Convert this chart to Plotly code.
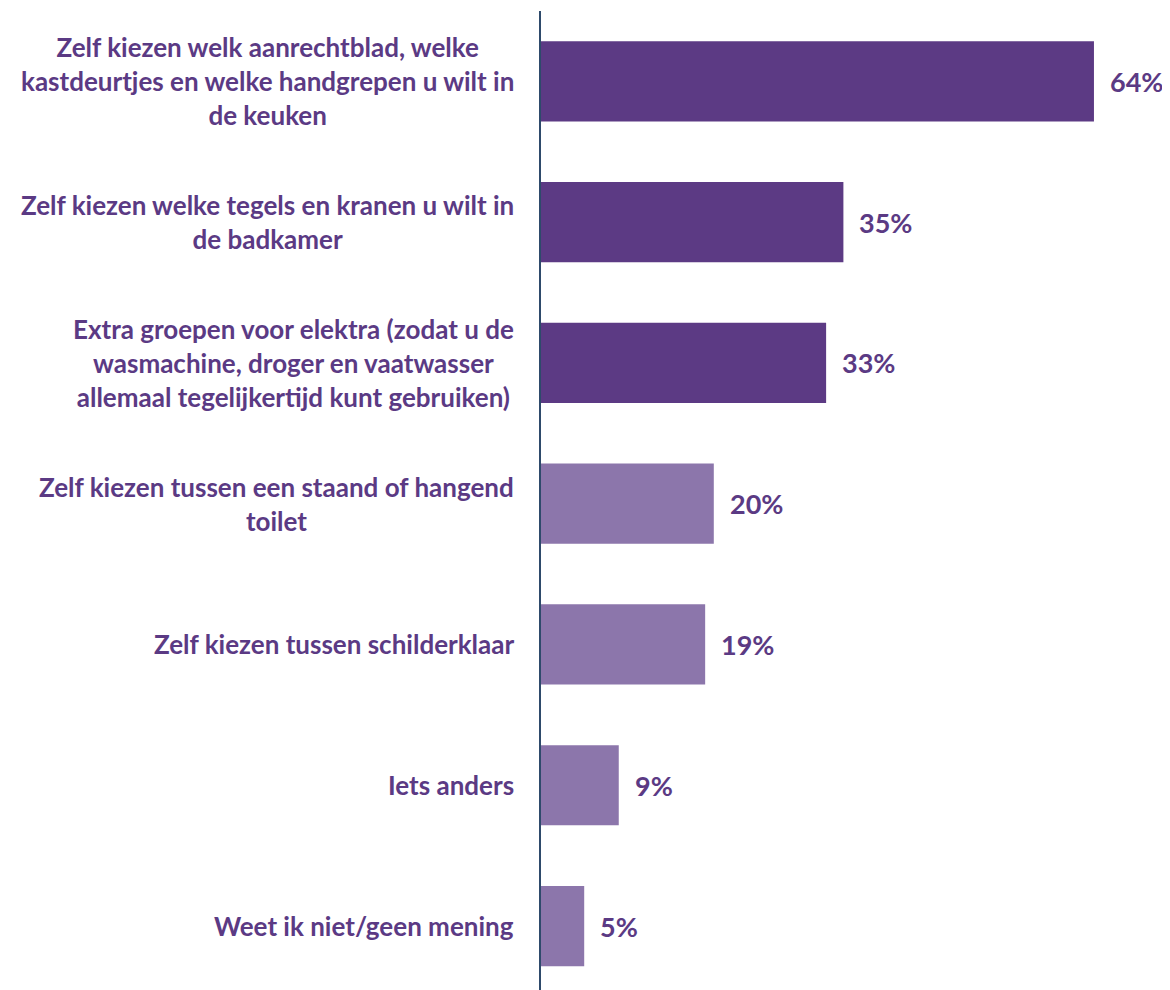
import plotly.graph_objects as go

categories = [
    "Zelf kiezen welk aanrechtblad, welke<br>kastdeurtjes en welke handgrepen u wilt in<br>de keuken",
    "Zelf kiezen welke tegels en kranen u wilt in<br>de badkamer",
    "Extra groepen voor elektra (zodat u de<br>wasmachine, droger en vaatwasser<br>allemaal tegelijkertijd kunt gebruiken)",
    "Zelf kiezen tussen een staand of hangend<br>toilet",
    "Zelf kiezen tussen schilderklaar",
    "Iets anders",
    "Weet ik niet/geen mening",
]
values = [64, 35, 33, 20, 19, 9, 5]
value_labels = ["64%", "35%", "33%", "20%", "19%", "9%", "5%"]

DARK = "#5C3A84"
LIGHT = "#8C76AB"
TEXT = "#5B3A84"
colors = [DARK, DARK, DARK, LIGHT, LIGHT, LIGHT, LIGHT]

idx = list(range(len(categories)))

fig = go.Figure()
fig.add_trace(go.Bar(
    x=values, y=idx, orientation="h",
    marker=dict(color=colors, line=dict(width=0)),
    width=0.57,
    hoverinfo="skip",
))

annotations = []
for i, (v, lab) in enumerate(zip(values, value_labels)):
    annotations.append(dict(
        x=v, y=i, xref="x", yref="y", text="<b>" + lab + "</b>",
        showarrow=False, xanchor="left", yanchor="middle", xshift=14,
        font=dict(family="Lato", size=27, color=TEXT),
    ))
for i, c in enumerate(categories):
    annotations.append(dict(
        x=0, y=i, xref="paper", yref="y", text="<b>" + c + "</b>",
        showarrow=False, xanchor="right", yanchor="middle", xshift=-25,
        align="center",
        font=dict(family="Lato", size=26, color=TEXT),
    ))

fig.update_layout(
    width=1162, height=982,
    margin=dict(l=533, r=0, t=3, b=0),
    paper_bgcolor="white", plot_bgcolor="white",
    showlegend=False,
    annotations=annotations,
    xaxis=dict(range=[0, 629 / 8.64], visible=False, fixedrange=True),
    yaxis=dict(range=[6.4545, -0.5], showticklabels=False, showgrid=False,
               zeroline=False, showline=True, linecolor="#2E4A6B", linewidth=2,
               ticks=""),
)

fig.write_html("out.html")
